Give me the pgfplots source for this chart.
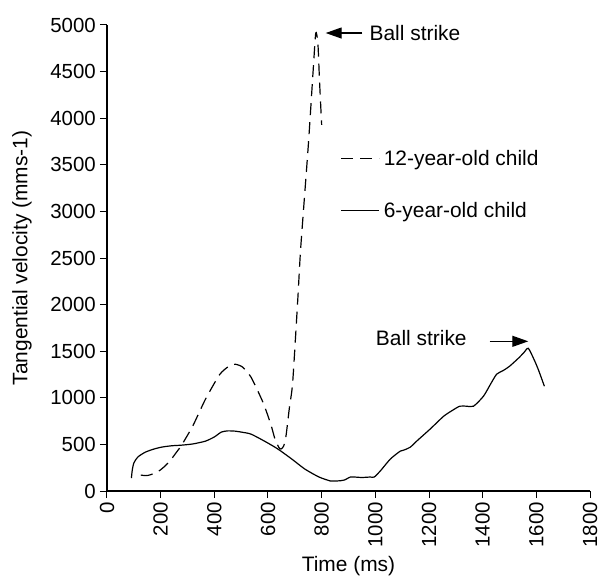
\documentclass[border=0pt]{standalone}
\usepackage{fontspec}
\setmainfont{Liberation Sans}
\usepackage{pgfplots}
\pgfplotsset{compat=1.18}
\usetikzlibrary{arrows.meta}

% Tangential velocity of the bat, 12-year-old child (dashed)
\pgfplotstableread{
t v
126 171
145 165
163 175
193 214
215 265
237 332
260 420
278 492
320 700
367 985
420 1250
455 1340
478 1360
505 1330
537 1220
581 953
610 720
626 557
640 470
648 450
658 480
667 589
680 900
692 1167
711 2056
722 2612
750 3700
768 4500
778 4914
786 4800
792 4400
800 3929
}\olderchild

% Tangential velocity of the bat, 6-year-old child (solid)
\pgfplotstableread{
t v
91 139
94 220
100 300
115 365
143 417
175 450
204 471
240 485
278 492
320 505
367 535
400 580
426 632
450 645
478 642
505 630
537 610
590 530
637 450
690 340
737 236
790 150
833 107
848 107
870 110
885 118
907 150
922 150
950 145
981 150
996 150
1020 220
1056 343
1093 428
1107 440
1130 470
1156 540
1204 664
1255 803
1290 870
1315 910
1340 910
1366 910
1403 1017
1430 1150
1452 1253
1475 1290
1500 1338
1537 1435
1555 1490
1570 1531
1590 1420
1607 1306
1630 1124
}\youngerchild

\begin{document}
\begin{tikzpicture}[font=\fontsize{21}{24}\selectfont]
\begin{axis}[
  name=ax,
  scale only axis,
  width=483bp, height=466bp,
  xmin=0, xmax=1800, ymin=0, ymax=5000,
  axis x line*=bottom, axis y line*=left,
  axis line style={black, line width=1.2bp},
  tick style={black, line width=1bp},
  tick align=outside,
  major tick length=7bp,
  xtick={0,200,...,1800},
  ytick={0,500,...,5000},
  /pgf/number format/assume math mode=true,
  /pgf/number format/1000 sep={},
  ticklabel style={font=\fontsize{20.5}{23}\selectfont},
  xticklabel style={rotate=90, anchor=east, inner xsep=4bp, inner ysep=0bp},
  yticklabel style={inner sep=4bp},
  xlabel={Time (ms)},
  ylabel={Tangential velocity (mms-1)},
  xlabel style={at={(axis description cs:0.5,0)}, anchor=center, yshift=-75bp},
  ylabel style={at={(axis description cs:0,0.5)}, anchor=center, yshift=85bp},
  clip=false,
  legend cell align=left,
  legend style={draw=none, fill=none, at={(axis cs:870,3700)}, anchor=north west,
    row sep=27bp, inner sep=0pt, nodes={inner sep=4bp}},
  legend image code/.code={\draw[#1] (0bp,0bp) -- (38bp,0bp);},
]
\addplot[black, line width=1.2bp, dash pattern=on 12bp off 7bp, smooth, tension=0.4]
  table[x=t, y=v] {\olderchild};
\addlegendentry{12-year-old child}
\addplot[black, line width=1.2bp, smooth, tension=0.4]
  table[x=t, y=v] {\youngerchild};
\addlegendentry{6-year-old child}

\draw[black, line width=1.2bp, -{Triangle[length=16bp, width=11bp]}]
  (axis cs:952,4914) -- (axis cs:815,4914);
\node[anchor=west, inner sep=0pt] at (axis cs:978,4914) {Ball strike};
\draw[black, line width=1.2bp, -{Triangle[length=16bp, width=11bp]}]
  (axis cs:1426,1606) -- (axis cs:1570,1606);
\node[anchor=east, inner sep=0pt] at (axis cs:1341,1640) {Ball strike};
\end{axis}
\pgfresetboundingbox
\path[use as bounding box] ([shift={(-107bp,-90bp)}]ax.south west)
  rectangle ([shift={(10bp,25bp)}]ax.north east);
\end{tikzpicture}
\end{document}
